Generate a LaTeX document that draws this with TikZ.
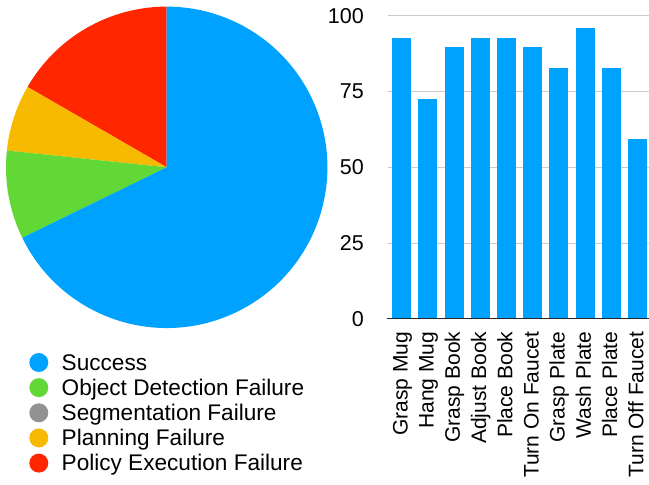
\documentclass[tikz,border=0pt]{standalone}
\usepackage{fontspec}
\setmainfont{Liberation Sans}
\usepackage{tikz}
\usetikzlibrary{positioning}
\definecolor{okblue}{HTML}{00A2FF}
\definecolor{detgreen}{HTML}{61D836}
\definecolor{seggray}{HTML}{929292}
\definecolor{planyellow}{HTML}{F8BA00}
\definecolor{polred}{HTML}{FF2600}
\tikzset{
  taskbar/.style={fill=okblue, anchor=south, inner sep=0pt,
    minimum width=19pt},
  gridrule/.style={draw=black!20, line width=1pt},
  axisrule/.style={draw=black!85, line width=1.5pt},
  ticklabel/.style={anchor=east, inner sep=0pt,
    font=\fontsize{21.5}{24}\selectfont},
  tasklabel/.style={rotate=90, anchor=base east, inner sep=0pt,
    font=\fontsize{21}{24}\selectfont},
}

\begin{document}
\begin{tikzpicture}[
  x=1pt, y={(0pt,-1pt)},
  legdot/.style={circle, minimum size=19pt, inner sep=0pt},
  legtext/.style={anchor=west, inner sep=0pt, text height=15.5pt,
    text depth=0pt, font=\fontsize{22.6}{26}\selectfont},
  node distance=5.75pt and 13pt
]
  \useasboundingbox (0,0) rectangle (649,485);

  % Pie of outcomes
  \coordinate (pc) at (166.7,167.3);
  \fill[polred] (pc) -- ++(-90:160.7)
    arc[start angle=-90, end angle=-150, radius=160.7] -- cycle;
  \fill[planyellow] (pc) -- ++(-150:160.7)
    arc[start angle=-150, end angle=-174, radius=160.7] -- cycle;
  \fill[detgreen] (pc) -- ++(-174:160.7)
    arc[start angle=-174, end angle=-206, radius=160.7] -- cycle;
  \fill[okblue] (pc) -- ++(-206:160.7)
    arc[start angle=-206, end angle=-450, radius=160.7] -- cycle;

  % Legend
  \node[legdot, fill=okblue] (d1) at (38.8,362.5) {};
  \node[legdot, fill=detgreen, below=of d1] (d2) {};
  \node[legdot, fill=seggray, below=of d2] (d3) {};
  \node[legdot, fill=planyellow, below=of d3] (d4) {};
  \node[legdot, fill=polred, below=of d4] (d5) {};
  \node[legtext, right=of d1] (s1) {Success};
  \node[legtext, right=of d2] (s2) {Object Detection Failure};
  \node[legtext, right=of d3] (s3) {Segmentation Failure};
  \node[legtext, right=of d4] (s4) {Planning Failure};
  \node[legtext, right=of d5] (s5) {Policy Execution Failure};

  % Grid and ticks
  \draw[gridrule] (388.3,15.7) -- (649,15.7);
  \draw[gridrule] (388.3,91) -- (649,91);
  \draw[gridrule] (388.3,167.2) -- (649,167.2);
  \draw[gridrule] (388.3,243) -- (649,243);
  \node[ticklabel] (t100) at (364,15.7) {100};
  \node[ticklabel] (t75) at (364,91) {75};
  \node[ticklabel] (t50) at (364,167.2) {50};
  \node[ticklabel] (t25) at (364,243) {25};
  \node[ticklabel] (t0) at (364,318.7) {0};

  % Success rate per task
  \node[taskbar, minimum height=280.7pt] (b1) at (401.7,318.7) {};
  \node[taskbar, minimum height=219.7pt] (b2) at (427.9,318.7) {};
  \node[taskbar, minimum height=271.7pt] (b3) at (454.1,318.7) {};
  \node[taskbar, minimum height=280.7pt] (b4) at (480.3,318.7) {};
  \node[taskbar, minimum height=280.7pt] (b5) at (506.5,318.7) {};
  \node[taskbar, minimum height=271.7pt] (b6) at (532.7,318.7) {};
  \node[taskbar, minimum height=250.7pt] (b7) at (558.9,318.7) {};
  \node[taskbar, minimum height=290.7pt] (b8) at (585.1,318.7) {};
  \node[taskbar, minimum height=250.7pt] (b9) at (611.3,318.7) {};
  \node[taskbar, minimum height=180pt] (b10) at (637.5,318.7) {};
  \draw[axisrule] (386.7,318.7) -- (649,318.7);

  % Task names
  \node[tasklabel] (l1) at (407.5,331.5) {Grasp Mug};
  \node[tasklabel] (l2) at (433.7,331.5) {Hang Mug};
  \node[tasklabel] (l3) at (459.9,331.5) {Grasp Book};
  \node[tasklabel] (l4) at (486.1,331.5) {Adjust Book};
  \node[tasklabel] (l5) at (512.3,331.5) {Place Book};
  \node[tasklabel] (l6) at (538.5,331.5) {Turn On Faucet};
  \node[tasklabel] (l7) at (564.7,331.5) {Grasp Plate};
  \node[tasklabel] (l8) at (590.9,331.5) {Wash Plate};
  \node[tasklabel] (l9) at (617.1,331.5) {Place Plate};
  \node[tasklabel] (l10) at (643.3,331.5) {Turn Off Faucet};
\end{tikzpicture}
\end{document}
